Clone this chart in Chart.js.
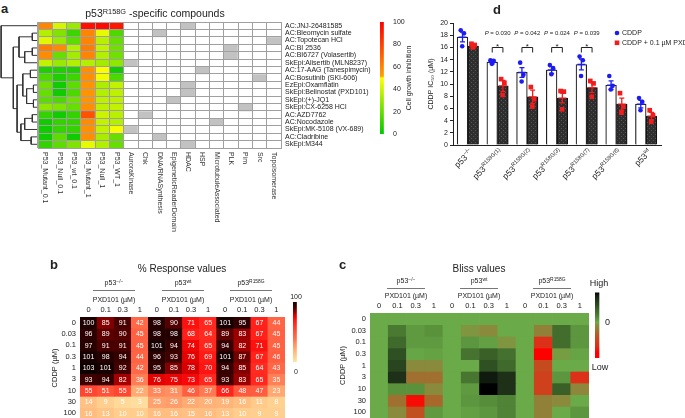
<!DOCTYPE html>
<html>
<head>
<meta charset="utf-8">
<script src="https://cdn.jsdelivr.net/npm/chart.js@4.4.1/dist/chart.umd.min.js"></script>
<style>
  body { margin: 0; background: #fff; }
  #fig { position: relative; width: 685px; height: 418px; overflow: hidden; font-family: 'Liberation Sans', Arial, sans-serif; color: #222; }
  #fig canvas { position: absolute; }
  .t { position: absolute; white-space: nowrap; transform: translate(-50%, -50%); line-height: 1; }
  .t sup { font-size: 70%; vertical-align: 0; position: relative; top: -0.45em; }
  .letter { position: absolute; font-weight: bold; font-size: 13px; line-height: 1; }
  .rule { position: absolute; height: 0; border-top: 1px solid #777; }
</style>
</head>
<body>
<div id="fig">
  <canvas id="dendro" width="38" height="126" style="left:0px;top:22px"></canvas>
  <canvas id="heatA" width="360" height="240" style="left:30px;top:10px"></canvas>
  <canvas id="barA" width="45" height="140" style="left:370px;top:10px"></canvas>
  <canvas id="chartD" width="260" height="215" style="left:425px;top:0px"></canvas>
  <canvas id="heatB" width="250" height="130" style="left:40px;top:300px"></canvas>
  <canvas id="barB" width="20" height="80" style="left:285px;top:295px"></canvas>
  <canvas id="heatC" width="265" height="133" style="left:330px;top:296px"></canvas>
  <canvas id="barC" width="40" height="90" style="left:585px;top:285px"></canvas>

  <div class="letter" style="left:1px;top:2px">a</div>
  <div class="t" style="left:155px;top:13px;font-size:10.5px">p53<sup>R158G</sup> -specific compounds</div>
  <div class="t" style="left:408px;top:78px;font-size:7px;transform:translate(-50%,-50%) rotate(-90deg)">Cell growth inhibition</div>

  <div class="letter" style="left:493px;top:3px">d</div>

  <div class="letter" style="left:50px;top:258px">b</div>
  <div class="t" style="left:182px;top:269px;font-size:10px">% Response values</div>
  <div class="t" style="left:114px;top:283px;font-size:7px">p53<sup>−/−</sup></div>
  <div class="t" style="left:183px;top:283px;font-size:7px">p53<sup>wt</sup></div>
  <div class="t" style="left:251px;top:283px;font-size:7px">p53<sup>R158G</sup></div>
  <div class="rule" style="left:93px;top:290px;width:42px"></div>
  <div class="rule" style="left:162px;top:290px;width:42px"></div>
  <div class="rule" style="left:230px;top:290px;width:42px"></div>
  <div class="t" style="left:114px;top:299px;font-size:7px">PXD101 (µM)</div>
  <div class="t" style="left:183px;top:299px;font-size:7px">PXD101 (µM)</div>
  <div class="t" style="left:251px;top:299px;font-size:7px">PXD101 (µM)</div>
  <div class="t" style="left:296px;top:296px;font-size:7px">100</div>
  <div class="t" style="left:296px;top:371px;font-size:7px">0</div>

  <div class="letter" style="left:339px;top:258px">c</div>
  <div class="t" style="left:479px;top:269px;font-size:10px">Bliss values</div>
  <div class="t" style="left:406px;top:281px;font-size:7px">p53<sup>−/−</sup></div>
  <div class="t" style="left:479px;top:281px;font-size:7px">p53<sup>wt</sup></div>
  <div class="t" style="left:552px;top:281px;font-size:7px">p53<sup>R158G</sup></div>
  <div class="rule" style="left:387px;top:288px;width:38px"></div>
  <div class="rule" style="left:460px;top:288px;width:38px"></div>
  <div class="rule" style="left:533px;top:288px;width:38px"></div>
  <div class="t" style="left:406px;top:295px;font-size:7px">PXD101 (µM)</div>
  <div class="t" style="left:479px;top:295px;font-size:7px">PXD101 (µM)</div>
  <div class="t" style="left:552px;top:295px;font-size:7px">PXD101 (µM)</div>
  <div class="t" style="left:599px;top:283px;font-size:9px">High</div>
  <div class="t" style="left:600px;top:367px;font-size:9px">Low</div>
</div>

<script>
// ---------- panel a: screen heatmap ----------
const compounds = [
  'AC:JNJ-26481585', 'AC:Bleomycin sulfate', 'AC:Topotecan HCl', 'AC:BI 2536',
  'AC:BI6727 (Volasertib)', 'SkEpi:Alisertib (MLN8237)', 'AC:17-AAG (Tanespimycin)',
  'AC:Bosutinib (SKI-606)', 'EzEpi:Oxamflatin', 'SkEpi:Belinostat (PXD101)', 'SkEpi:(+)-JQ1',
  'SkEpi:CX-6258 HCl', 'AC:AZD7762', 'AC:Nocodazole', 'SkEpi:MK-5108 (VX-689)',
  'AC:Cladribine', 'SkEpi:M344'
];
const screens = ['P53_Mutant_0.1', 'P53_Null_0.1', 'P53_wt_0.1', 'P53_Mutant_1', 'P53_Null_1', 'P53_WT_1'];
const targets = ['AuroraKinase', 'Chk', 'DNA/RNASynthesis', 'EpigeneticReaderDomain', 'HDAC', 'HSP',
  'MicrotubuleAssociated', 'PLK', 'Pim', 'Src', 'Topoisomerase'];
const inhibition = [
  [60, 42, 30, 95, 97, 93],
  [35, 25, 12, 60, 45, 15],
  [44, 30, 18, 60, 36, 20],
  [62, 58, 35, 62, 38, 22],
  [58, 20, 32, 60, 35, 22],
  [38, 30, 35, 35, 32, 28],
  [6, 6, 6, 57, 49, 3],
  [15, 6, 12, 57, 47, 15],
  [22, 3, 18, 55, 34, 38],
  [20, 3, 15, 55, 35, 37],
  [18, 15, 22, 55, 37, 37],
  [28, 25, 20, 57, 37, 38],
  [10, 3, 10, 75, 40, 36],
  [3, 10, 10, 58, 38, 35],
  [3, 10, 10, 56, 38, 48],
  [3, 18, 3, 57, 33, 20],
  [10, 18, 25, 45, 35, 20]
];
const targetOf = ['HDAC', 'DNA/RNASynthesis', 'Topoisomerase', 'PLK', 'PLK', 'AuroraKinase', 'HSP', 'Src',
  'HDAC', 'HDAC', 'EpigeneticReaderDomain', 'Pim', 'Chk', 'MicrotubuleAssociated', 'AuroraKinase',
  'DNA/RNASynthesis', 'HDAC'];
// dendrogram merges: [left node, right node, height]; new nodes numbered after the leaves
const linkage = [
  [1, 2, 0.15], [3, 4, 0.15], [18, 5, 0.35], [17, 19, 0.5],
  [6, 7, 0.2], [8, 9, 0.12], [10, 11, 0.12], [22, 23, 0.3], [21, 24, 0.4],
  [12, 13, 0.15], [26, 14, 0.35], [15, 16, 0.18], [27, 28, 0.45],
  [25, 29, 0.55], [20, 30, 0.65], [0, 31, 0.97]
];

// ---------- panel b / c ----------
const pxdDoses = ['0', '0.1', '0.3', '1'];
const cddpDoses = ['0', '0.03', '0.1', '0.3', '1', '3', '10', '30', '100'];
const respNull = [
  [100, 85, 91, 42], [96, 89, 90, 45], [97, 91, 91, 45], [101, 98, 94, 44], [103, 101, 92, 42],
  [93, 94, 82, 36], [55, 51, 55, 22], [14, 9, 5, 3], [16, 13, 10, 10]
];
const respWt = [
  [98, 90, 71, 65], [98, 98, 68, 64], [101, 94, 74, 65], [96, 93, 76, 69], [95, 85, 78, 70],
  [76, 75, 73, 65], [33, 31, 46, 37], [25, 26, 22, 20], [16, 16, 15, 16]
];
const respMut = [
  [101, 95, 67, 44], [89, 83, 67, 45], [94, 82, 71, 45], [101, 87, 67, 46], [94, 85, 64, 43],
  [93, 83, 65, 35], [66, 48, 47, 23], [19, 16, 11, 8], [13, 10, 9, 9]
];
const blissNull = [
  [0, 0, 0, 0], [0, 0.25, 0.08, 0.12], [0, 0.38, 0.08, 0.08], [0, 0.55, 0.02, 0.04], [0, 0.62, -0.12, -0.12],
  [0, 0.78, -0.3, -0.3], [0, 0.12, 0.12, -0.12], [0, -0.3, -0.95, -0.35], [0, -0.12, -0.5, 0.08]
];
const blissWt = [
  [0, 0, 0, 0], [0, -0.08, -0.12, 0], [0, 0.1, 0.05, -0.08], [0, 0.3, 0.45, 0.32], [0, 0, 0.55, 0.38],
  [0, 0.28, 0.92, 0.78], [0, 0.08, 1.0, 0.78], [0, 0.1, 0.15, 0.2], [0, 0.05, 0.1, 0.2]
];
const blissMut = [
  [0, 0, 0, 0], [0, -0.18, 0.35, 0.1], [0, -0.8, 0.35, 0.1], [0, -1.0, -0.05, 0.03], [0, -0.55, 0, 0],
  [0, -0.65, 0.1, -0.8], [0, -0.65, 0.45, -0.15], [0, -0.18, -0.12, 0], [0, -0.18, 0, 0.1]
];

// ---------- panel d ----------
const lines = ['−/−', 'R158G(1)', 'R158G(2)', 'R158G(3)', 'R158G(7)', 'R158G(8)', 'wt'];
const cddpMean = [17.7, 13.6, 11.9, 12.3, 13.2, 9.8, 6.7];
const cddpErr = [0.8, 0.3, 0.8, 0.55, 0.9, 0.7, 0.6];
const comboMean = [16.2, 9.7, 7.9, 7.7, 9.4, 6.7, 4.75];
const comboErr = [0.3, 0.9, 1.1, 0.8, 0.8, 1.0, 0.6];
const cddpPts = [[18.8, 18.3, 16.2], [13.9, 13.8, 13.3], [13.5, 11.5, 10.4], [13.1, 12.6, 11.6], [14.5, 13.9, 11.3], [11.3, 9.7, 9.1], [7.7, 7.1, 5.7]];
const comboPts = [[16.6, 16.4, 16.0], [10.8, 10.2, 8.2], [9.5, 7.5, 6.3], [8.85, 8.75, 5.85], [10.5, 10.1, 7.9], [8.5, 6.3, 5.3], [5.7, 4.9, 3.8]];
const pValues = [null, '0.030', '0.042', '0.024', '0.039', null, null];

// ---------- setup ----------
const fam = "'Liberation Sans', Arial, sans-serif";
Chart.defaults.animation = false;
Chart.defaults.responsive = false;
Chart.defaults.devicePixelRatio = 1;
Chart.defaults.events = [];
Chart.defaults.font.family = fam;
Chart.defaults.color = '#222';
Chart.defaults.plugins.legend.display = false;
Chart.defaults.plugins.tooltip.enabled = false;

function rgb(c) { return 'rgb(' + c.map(Math.round).join(',') + ')'; }
function fromStops(stops) {
  return v => {
    if (v <= stops[0][0]) return rgb(stops[0][1]);
    for (let i = 1; i < stops.length; i++) {
      if (v <= stops[i][0]) {
        const [a, ca] = stops[i - 1], [b, cb] = stops[i];
        const t = (v - a) / (b - a);
        return rgb(ca.map((c, k) => c + (cb[k] - c) * t));
      }
    }
    return rgb(stops[stops.length - 1][1]);
  };
}
const inhibColor = fromStops([[0, [0, 200, 0]], [50, [255, 255, 0]], [51.5, [255, 160, 0]], [100, [255, 0, 0]]]);
const respColor = fromStops([[0, [255, 228, 165]], [10, [255, 205, 140]], [20, [255, 178, 120]], [30, [255, 145, 98]],
  [40, [255, 110, 75]], [50, [255, 85, 58]], [60, [255, 55, 40]], [68, [255, 30, 24]], [73, [248, 8, 8]],
  [78, [215, 0, 0]], [82, [165, 0, 0]], [87, [110, 0, 0]], [91, [75, 0, 0]], [95, [48, 0, 0]], [100, [30, 0, 0]], [103, [15, 0, 0]]]);
const blissColor = fromStops([[-1, [255, 0, 0]], [-0.8, [221, 48, 24]], [-0.5, [192, 80, 32]], [-0.3, [160, 112, 48]],
  [-0.12, [138, 138, 60]], [0, [106, 170, 72]], [0.1, [92, 150, 62]], [0.25, [74, 122, 50]], [0.45, [58, 96, 40]],
  [0.6, [42, 72, 32]], [0.78, [30, 48, 24]], [0.92, [16, 26, 14]], [1, [0, 0, 0]]]);

function gradientFill(colorAt, lo, hi) {
  return c => {
    const area = c.chart.chartArea;
    if (!area) return 'transparent';
    const g = c.chart.ctx.createLinearGradient(0, area.bottom, 0, area.top);
    for (let k = 0; k <= 100; k++) g.addColorStop(k / 100, colorAt(lo + (hi - lo) * k / 100));
    return g;
  };
}

function colorBar(id, colorAt, lo, hi, pad, yOpts) {
  return new Chart(document.getElementById(id), {
    type: 'bar',
    data: { labels: [''], datasets: [{ data: [[lo, hi]], backgroundColor: gradientFill(colorAt, lo, hi), borderWidth: 0, barPercentage: 1, categoryPercentage: 1 }] },
    options: {
      layout: { padding: pad },
      scales: {
        x: { display: false, offset: false },
        y: Object.assign({ min: lo, max: hi }, yOpts)
      }
    }
  });
}

// ---------- panel a ----------
(function () {
  // dendrogram as U-shaped polylines
  const ypos = {}, hgt = {};
  compounds.forEach((c, i) => { ypos[i] = i; hgt[i] = 0; });
  const pts = [];
  linkage.forEach(([a, b, h], k) => {
    const id = compounds.length + k;
    pts.push({ x: hgt[a], y: ypos[a] }, { x: h, y: ypos[a] }, { x: h, y: ypos[b] }, { x: hgt[b], y: ypos[b] }, { x: NaN, y: NaN });
    ypos[id] = (ypos[a] + ypos[b]) / 2;
    hgt[id] = h;
  });
  new Chart(document.getElementById('dendro'), {
    type: 'scatter',
    data: { datasets: [{ data: pts, showLine: true, spanGaps: false, borderColor: '#333', borderWidth: 1, pointRadius: 0 }] },
    options: {
      layout: { padding: 0 },
      scales: {
        x: { min: 0, max: 1, reverse: true, display: false },
        y: { min: -0.5, max: compounds.length - 0.5, reverse: true, display: false }
      }
    }
  });

  const cols = screens.concat(targets);
  const colLabels = {
    id: 'colLabels',
    afterDraw(chart) {
      const { ctx, chartArea, scales: { x } } = chart;
      ctx.save();
      ctx.font = '7px ' + fam;
      ctx.fillStyle = '#333';
      ctx.textAlign = 'left';
      ctx.textBaseline = 'middle';
      cols.forEach((lab, j) => {
        ctx.save();
        ctx.translate(x.getPixelForValue(j), chartArea.bottom + 4);
        ctx.rotate(Math.PI / 2);
        ctx.fillText(lab, 0, 0);
        ctx.restore();
      });
      ctx.restore();
    }
  };
  const gridCol = '#a0a0a0';
  new Chart(document.getElementById('heatA'), {
    type: 'bar',
    data: {
      labels: cols,
      datasets: compounds.map((name, r) => ({
        label: name,
        data: cols.map(() => 1),
        backgroundColor: cols.map((c, j) => j < screens.length ? inhibColor(inhibition[r][j]) : (c === targetOf[r] ? '#c2c2c2' : '#ffffff')),
        borderWidth: 0, barPercentage: 1, categoryPercentage: 1
      }))
    },
    options: {
      layout: { padding: { left: 8, top: 12, right: 0, bottom: 102 } },
      scales: {
        x: { stacked: true, offset: true, ticks: { display: false }, grid: { offset: true, color: gridCol, z: 1, drawTicks: false }, border: { color: gridCol, z: 1 }, afterFit: s => { s.height = 0; } },
        y: { stacked: true, reverse: true, min: 0, max: compounds.length, ticks: { display: false, stepSize: 1 }, grid: { color: gridCol, z: 1, drawTicks: false }, border: { color: gridCol, z: 1 }, afterFit: s => { s.width = 0; } },
        y2: { axis: 'y', type: 'category', position: 'right', labels: compounds, offset: true, grid: { display: false, drawTicks: false }, border: { display: false }, ticks: { font: { size: 7 }, padding: 4, autoSkip: false }, afterFit: s => { s.width = 109; } }
      }
    },
    plugins: [colLabels]
  });

  colorBar('barA', inhibColor, 0, 100, { left: 10, top: 12, right: 0, bottom: 16 }, {
    position: 'right', ticks: { stepSize: 20, font: { size: 7 }, padding: 6 }, grid: { display: false, drawTicks: false }, border: { display: false },
    afterFit: s => { s.width = 28; }
  });
})();

// ---------- panels b and c ----------
const cellText = {
  id: 'cellText',
  afterDatasetsDraw(chart, args, opts) {
    if (!opts.values) return;
    const ctx = chart.ctx;
    ctx.save();
    ctx.font = '7px ' + fam;
    ctx.fillStyle = '#fff';
    ctx.textAlign = 'center';
    ctx.textBaseline = 'middle';
    chart.data.datasets.forEach((ds, r) => {
      chart.getDatasetMeta(r).data.forEach((bar, j) => {
        ctx.fillText(String(opts.values[r][j]), bar.x, (bar.y + bar.base) / 2 + 0.5);
      });
    });
    ctx.restore();
  }
};

function doseGrid(id, rows, colorAt, o) {
  const labels = [].concat(pxdDoses, pxdDoses, pxdDoses);
  return new Chart(document.getElementById(id), {
    type: 'bar',
    data: {
      labels: labels,
      datasets: rows.map(row => ({
        data: row.map(() => 1),
        backgroundColor: row.map(colorAt),
        borderWidth: 0, barPercentage: 1, categoryPercentage: 1
      }))
    },
    options: {
      layout: { padding: o.padding },
      scales: {
        x: { position: 'top', stacked: true, offset: true, grid: { display: false, drawTicks: false }, border: { display: false },
          ticks: { font: { size: 7.5 }, padding: o.labelPad, maxRotation: 0, autoSkip: false }, afterFit: s => { s.height = 17; } },
        y: { stacked: true, reverse: true, min: 0, max: rows.length, display: false },
        y2: { axis: 'y', type: 'category', position: 'left', labels: cddpDoses, offset: true, grid: { display: false, drawTicks: false }, border: { display: false },
          ticks: { font: { size: 7.5 }, padding: 4, autoSkip: false },
          title: { display: true, text: 'CDDP (µM)', font: { size: 7.5 }, padding: { top: 0, bottom: 0 } },
          afterFit: s => { s.width = o.leftW; } }
      },
      plugins: { cellText: { values: o.values } }
    },
    plugins: [cellText]
  });
}

const respRows = respNull.map((r, i) => r.concat(respWt[i], respMut[i]));
doseGrid('heatB', respRows, respColor, { padding: { left: 10, top: 0, right: 5, bottom: 11 }, leftW: 30, labelPad: 3, values: respRows });
colorBar('barB', respColor, 0, 100, { left: 8, top: 7, right: 5, bottom: 13 }, { display: false });

const blissRows = blissNull.map((r, i) => r.concat(blissWt[i], blissMut[i]));
doseGrid('heatC', blissRows, blissColor, { padding: { left: 8, top: 0, right: 6, bottom: 11 }, leftW: 32, labelPad: 3, values: null });
colorBar('barC', blissColor, -1.2, 1, { left: 10, top: 7, right: 0, bottom: 17 }, {
  position: 'right', grid: { display: false, drawTicks: false }, border: { display: false },
  ticks: { font: { size: 9 }, padding: 2 },
  afterBuildTicks: s => { s.ticks = [{ value: 0 }]; },
  afterFit: s => { s.width = 22; }
});

// ---------- panel d ----------
(function () {
  const shift = 0.18;
  const jitter = [-0.06, 0.05, -0.01];
  const blue = '#1c1cf2', red = '#f21c1c';

  const pc = document.createElement('canvas');
  pc.width = 4; pc.height = 4;
  const pg = pc.getContext('2d');
  pg.fillStyle = '#2e2e2e'; pg.fillRect(0, 0, 4, 4);
  pg.fillStyle = '#575757'; pg.fillRect(0, 0, 1, 1); pg.fillRect(2, 2, 1, 1);
  const hatch = pg.createPattern(pc, 'repeat');

  const barsOf = (means, sh) => means.map((v, i) => ({ x: i + sh, y: v }));
  const scatterOf = (groups, sh) => groups.flatMap((g, i) => g.map((v, k) => ({ x: i + sh + jitter[k], y: v })));

  function drawLabel(ctx, base, sup, x, y) {
    ctx.save();
    ctx.translate(x, y);
    ctx.rotate(-Math.PI / 4);
    ctx.textAlign = 'left';
    ctx.textBaseline = 'middle';
    ctx.font = '8.5px ' + fam;
    const wb = ctx.measureText(base).width;
    ctx.font = '5.5px ' + fam;
    const ws = ctx.measureText(sup).width;
    ctx.font = '8.5px ' + fam;
    ctx.fillText(base, -(wb + ws), 0);
    ctx.font = '5.5px ' + fam;
    ctx.fillText(sup, -ws, -3);
    ctx.restore();
  }

  const extras = {
    id: 'extras',
    afterDatasetsDraw(chart) {
      const { ctx, chartArea: area, scales: { x, y } } = chart;
      ctx.save();
      // error bars
      [[cddpMean, cddpErr, -shift, blue], [comboMean, comboErr, shift, red]].forEach(([m, e, sh, col]) => {
        ctx.strokeStyle = col;
        ctx.lineWidth = 1.3;
        m.forEach((v, i) => {
          const px = x.getPixelForValue(i + sh);
          const top = y.getPixelForValue(v + e[i]), bot = y.getPixelForValue(v - e[i]), mid = y.getPixelForValue(v);
          ctx.beginPath();
          ctx.moveTo(px, top); ctx.lineTo(px, bot);
          ctx.moveTo(px - 2.5, top); ctx.lineTo(px + 2.5, top);
          ctx.moveTo(px - 2.5, bot); ctx.lineTo(px + 2.5, bot);
          ctx.moveTo(px - 4, mid); ctx.lineTo(px + 4, mid);
          ctx.stroke();
        });
      });
      // significance brackets
      pValues.forEach((p, i) => {
        if (!p) return;
        const x0 = x.getPixelForValue(i - shift), x1 = x.getPixelForValue(i + shift);
        const yb = area.top + 24.5;
        ctx.strokeStyle = '#222'; ctx.lineWidth = 1;
        ctx.beginPath();
        ctx.moveTo(x0, yb + 5); ctx.lineTo(x0, yb); ctx.lineTo(x1, yb); ctx.lineTo(x1, yb + 5);
        ctx.stroke();
        ctx.fillStyle = '#222';
        ctx.textAlign = 'center'; ctx.textBaseline = 'alphabetic';
        ctx.font = '8px ' + fam;
        ctx.fillText('*', (x0 + x1) / 2, yb + 1.5);
        ctx.font = 'italic 6px ' + fam;
        const wp = ctx.measureText('P').width;
        ctx.font = '6px ' + fam;
        const rest = ' = ' + p, wr = ctx.measureText(rest).width;
        const sx = (x0 + x1) / 2 - (wp + wr) / 2;
        ctx.textAlign = 'left'; ctx.textBaseline = 'middle';
        ctx.font = 'italic 6px ' + fam; ctx.fillText('P', sx, area.top + 10);
        ctx.font = '6px ' + fam; ctx.fillText(rest, sx + wp, area.top + 10);
      });
      // legend
      const lx = area.right - 44, ly = area.top + 10;
      ctx.fillStyle = blue;
      ctx.beginPath(); ctx.arc(lx, ly, 2.3, 0, Math.PI * 2); ctx.fill();
      ctx.fillStyle = red;
      ctx.fillRect(lx - 2.3, ly + 7.5, 4.6, 4.6);
      ctx.fillStyle = '#222';
      ctx.font = '7px ' + fam; ctx.textAlign = 'left'; ctx.textBaseline = 'middle';
      ctx.fillText(chart.data.datasets[0].label, lx + 5, ly);
      ctx.fillText(chart.data.datasets[1].label, lx + 5, ly + 10);
      // cell line labels
      ctx.fillStyle = '#222';
      lines.forEach((l, i) => drawLabel(ctx, 'p53', l, x.getPixelForValue(i) + 4, area.bottom + 6));
      ctx.restore();
    }
  };

  new Chart(document.getElementById('chartD'), {
    type: 'bar',
    data: {
      datasets: [
        { label: 'CDDP', data: barsOf(cddpMean, -shift), backgroundColor: '#fff', borderColor: '#222', borderWidth: 1.2, grouped: false, categoryPercentage: 1, barPercentage: 1, order: 2 },
        { label: 'CDDP + 0.1 µM PXD101', data: barsOf(comboMean, shift), backgroundColor: hatch, borderColor: '#111', borderWidth: 1.2, grouped: false, categoryPercentage: 1, barPercentage: 1, order: 2 },
        { type: 'scatter', label: 'CDDP points', data: scatterOf(cddpPts, -shift), backgroundColor: blue, borderWidth: 0, pointRadius: 2.3, order: 1 },
        { type: 'scatter', label: 'combo points', data: scatterOf(comboPts, shift), backgroundColor: red, borderWidth: 0, pointStyle: 'rect', pointRadius: 3.3, order: 1 }
      ]
    },
    options: {
      layout: { padding: { left: 0, top: 23, right: 24, bottom: 70 } },
      scales: {
        x: { type: 'linear', offset: false, min: -0.5, max: lines.length - 0.5, ticks: { display: false, stepSize: 1 }, grid: { display: false, offset: false }, border: { color: '#222', width: 1 }, afterFit: s => { s.height = 0; } },
        y: { min: 0, max: 20, ticks: { stepSize: 2, font: { size: 7 }, padding: 2 },
          grid: { drawOnChartArea: false, tickLength: 3, color: '#222' }, border: { color: '#222', width: 1 },
          title: { display: true, text: 'CDDP IC₅₀ (µM)', font: { size: 7 }, padding: { top: 2, bottom: 0 } },
          afterFit: s => { s.width = 28; } }
      }
    },
    plugins: [extras]
  });
})();
</script>
</body>
</html>
